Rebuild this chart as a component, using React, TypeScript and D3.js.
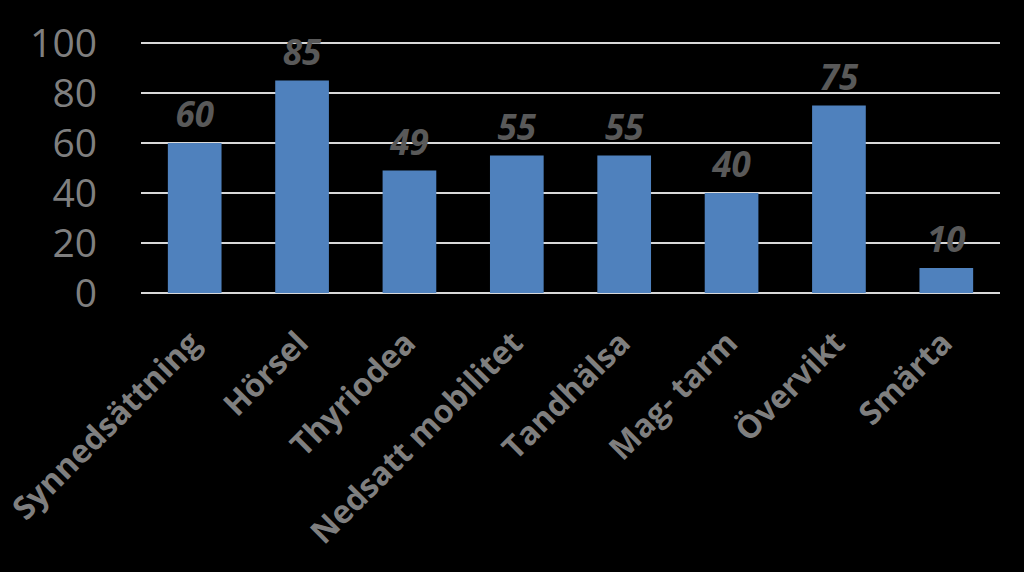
import React from "react";
import * as d3 from "d3";

const categories = ["Synnedsättning", "Hörsel", "Thyriodea", "Nedsatt mobilitet", "Tandhälsa", "Mag- tarm", "Övervikt", "Smärta"];
const values = [60, 85, 49, 55, 55, 40, 75, 10];
const yTicks = [0, 20, 40, 60, 80, 100];

const W = 1024;
const H = 572;
const left = 141;
const right = 1000;
const top = 43;
const bottom = 293;

export default function App() {
  const x = d3.scaleBand<string>().domain(categories).range([left, right]).paddingInner(0.5).paddingOuter(0.25);
  const y = d3.scaleLinear().domain([0, 100]).range([bottom, top]);
  const font = "'Open Sans', sans-serif";
  return (
    <svg width={W} height={H} style={{ position: "absolute", left: 0, top: 0, background: "#000" }}>
      <rect x={0} y={0} width={W} height={H} fill="#000" />
      {yTicks.map((t) => (
        <g key={t}>
          <line x1={left} x2={right} y1={y(t)} y2={y(t)} stroke="#D9D9D9" strokeWidth={2} />
          <text x={97} y={y(t)} dy="0.36em" textAnchor="end" fill="#7F7F7F" fontFamily={font} fontSize={39}>
            {t}
          </text>
        </g>
      ))}
      {categories.map((c, i) => {
        const bx = x(c) as number;
        const cx = bx + x.bandwidth() / 2;
        return (
          <g key={c}>
            <rect x={bx} y={y(values[i])} width={x.bandwidth()} height={bottom - y(values[i])} fill="#4F81BD" />
            <text x={cx} y={y(values[i]) - 16} textAnchor="middle" fill="#595959" fontFamily={font} fontWeight="bold" fontStyle="italic" fontSize={35}>
              {values[i]}
            </text>
            <text
              transform={`translate(${cx - 9},${bottom + 35}) rotate(-45)`}
              textAnchor="end"
              dy="0.75em"
              fill="#7F7F7F"
              fontFamily={font}
              fontWeight="bold"
              fontSize={32}
            >
              {c}
            </text>
          </g>
        );
      })}
    </svg>
  );
}
